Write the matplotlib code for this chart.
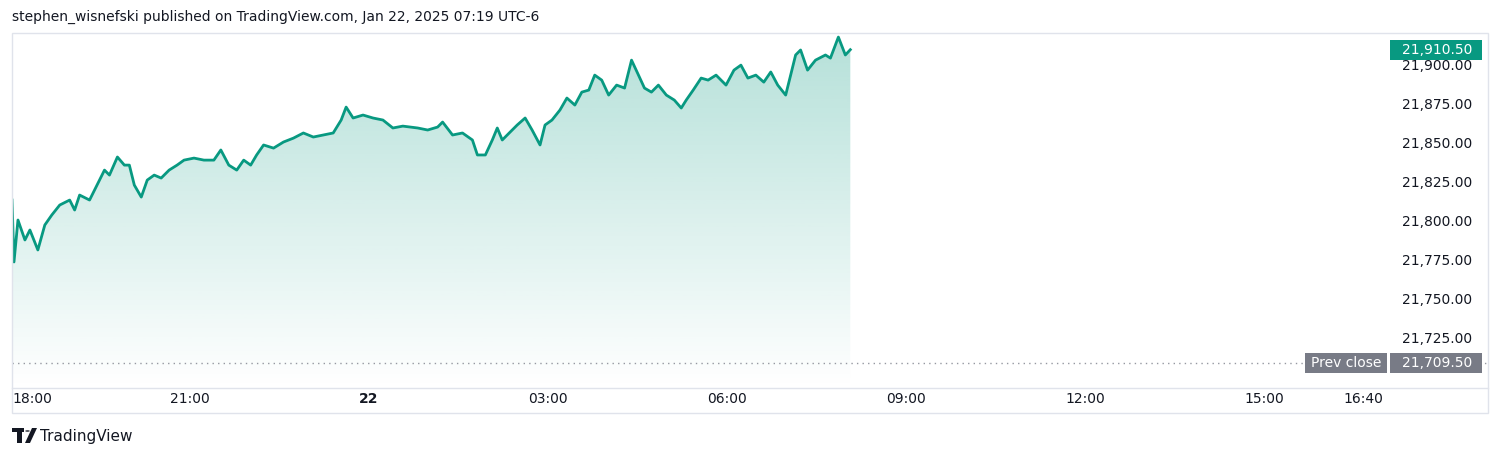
import matplotlib
matplotlib.use("Agg")
import matplotlib.pyplot as plt
import numpy as np
from matplotlib.patches import Rectangle, Polygon, Circle

# minutes since 18:00 (Jan 21)
minutes = [1,3,7,14,19,27,34,41,49,59,64,69,79,84,94,99,107,114,119,124,131,137,144,151,159,167,174,184,194,204,211,219,227,234,241,247,254,264,274,284,294,304,314,324,332,337,344,354,364,374,384,394,409,419,429,434,444,454,464,469,477,484,489,494,501,509,517,524,532,537,544,552,559,567,574,581,587,594,601,609,617,624,631,637,644,651,659,667,674,679,686,694,701,709,719,727,734,741,749,757,764,771,779,784,789,794,801,809,819,824,832,839,844]
prices = [21814.1,21774.4,21801.3,21788.5,21794.9,21782.1,21798.1,21804.5,21810.9,21814.1,21807.7,21817.3,21814.1,21820.5,21833.3,21830.1,21841.7,21836.5,21836.5,21823.7,21816.0,21826.9,21830.1,21828.2,21833.3,21836.5,21839.7,21841.0,21839.7,21839.7,21846.2,21836.5,21833.3,21839.7,21836.5,21843.0,21849.4,21847.4,21851.3,21853.8,21857.1,21854.5,21855.8,21857.1,21865.4,21873.7,21866.7,21868.6,21866.7,21865.4,21860.3,21861.5,21860.3,21859.0,21860.9,21864.1,21855.8,21857.1,21852.6,21843.0,21843.0,21852.6,21860.3,21852.6,21857.1,21862.2,21866.7,21859.0,21849.4,21862.2,21865.4,21871.8,21879.5,21875.0,21883.3,21884.6,21894.2,21891.0,21881.4,21887.8,21885.9,21903.8,21894.2,21885.9,21883.3,21887.8,21881.4,21878.2,21873.1,21878.2,21884.6,21892.3,21891.0,21894.2,21887.8,21897.4,21900.6,21892.3,21894.2,21889.7,21896.2,21887.8,21881.4,21894.2,21907.1,21910.3,21897.4,21903.8,21907.1,21905.1,21918.6,21907.1,21910.5]
prev_close = 21709.5
last_price = 21910.5
y_ticks = [21725, 21750, 21775, 21800, 21825, 21850, 21875, 21900]
x_tick_min = [0, 180, 360, 540, 720, 900, 1080, 1260, 1360]
x_tick_lab = ["18:00", "21:00", "22", "03:00", "06:00", "09:00", "12:00", "15:00", "16:40"]

GREEN = "#089981"
W, H = 1500, 457
fig = plt.figure(figsize=(15, 4.57), dpi=100)
fig.patch.set_facecolor("white")
ax = fig.add_axes([12/W, (H-388)/H, (1390-12)/W, (388-33)/H])
xmin, xmax = 1.0, 1386.7
ymin, ymax = 21693.6, 21921.2
ax.set_xlim(xmin, xmax); ax.set_ylim(ymin, ymax)
for s in ax.spines.values(): s.set_visible(False)
ax.set_xticks([]); ax.set_yticks([])

x = np.array(minutes, float); y = np.array(prices, float)
grad = np.linspace(0, 1, 256).reshape(-1, 1)
cmap = matplotlib.colors.LinearSegmentedColormap.from_list(
    "g", [(0, (8/255, 153/255, 129/255, 0.0)), (1, (8/255, 153/255, 129/255, 0.30))])
im = ax.imshow(grad, extent=[x[0], x[-1], ymin, y.max()], origin="lower",
               aspect="auto", cmap=cmap, zorder=1)
poly = Polygon(np.column_stack([np.r_[x, x[-1], x[0]], np.r_[y, ymin, ymin]]),
               closed=True, facecolor="none", edgecolor="none")
ax.add_patch(poly); im.set_clip_path(poly)
ax.plot(x, y, color=GREEN, lw=2, zorder=3)
ax.axhline(prev_close, color="#9598a1", lw=1, ls=(0, (1, 3)), zorder=2)

def to_fig(xv, yv):
    fx = (12 + (xv - xmin) / (xmax - xmin) * (1390 - 12)) / W
    fy = ((H - 388) + (yv - ymin) / (ymax - ymin) * (388 - 33)) / H
    return fx, fy

fy_pc = to_fig(0, prev_close)[1]
fig.add_artist(plt.Line2D([1390/W, 1488/W], [fy_pc, fy_pc], color="#9598a1", lw=1, ls=(0, (1, 3))))

fig.add_artist(Rectangle((12/W, (H-413)/H), (1488-12)/W, (413-33)/H, fill=False,
                         edgecolor="#e0e3eb", lw=1))
fig.add_artist(plt.Line2D([12/W, 1488/W], [(H-388)/H]*2, color="#e0e3eb", lw=1))

for t in y_ticks:
    fy = to_fig(0, t)[1]
    fig.text(1472/W, fy, f"{t:,.2f}", ha="right", va="center", fontsize=10, color="#131722")
fy_last = to_fig(0, last_price)[1]
fig.add_artist(Rectangle((1390/W, fy_last - 10/H), 92/W, 20/H, fc=GREEN, ec="none", zorder=4))
fig.text(1472/W, fy_last, f"{last_price:,.2f}", ha="right", va="center", fontsize=10, color="white", zorder=5)
fig.add_artist(Rectangle((1390/W, fy_pc - 10/H), 92/W, 20/H, fc="#787b86", ec="none", zorder=4))
fig.add_artist(Rectangle((1305/W, fy_pc - 10/H), 82/W, 20/H, fc="#787b86", ec="none", zorder=4))
fig.text(1472/W, fy_pc, f"{prev_close:,.2f}", ha="right", va="center", fontsize=10, color="white", zorder=5)
fig.text(1346/W, fy_pc, "Prev close", ha="center", va="center", fontsize=10, color="white", zorder=5)

for m, lab in zip(x_tick_min, x_tick_lab):
    fx = to_fig(m, 0)[0]
    if m == 0:
        fig.text(12/W, (H-399)/H, lab, ha="left", va="center", fontsize=10, color="#131722")
    else:
        fig.text(fx, (H-399)/H, lab, ha="center", va="center", fontsize=10, color="#131722",
                 fontweight="bold" if lab == "22" else "normal")

fig.text(12/W, (H-17)/H, "stephen_wisnefski published on TradingView.com, Jan 22, 2025 07:19 UTC-6",
         ha="left", va="center", fontsize=10, color="#131722")
# logo
fig.add_artist(Rectangle((12/W, (H-432)/H), 12/W, 4/H, fc="#131722", ec="none"))
fig.add_artist(Rectangle((17/W, (H-443)/H), 5/W, 14/H, fc="#131722", ec="none"))
fig.add_artist(Circle((27.5/W, (H-431)/H), 2.3/W, fc="#131722", ec="none"))
fig.add_artist(Polygon([(25/W, (H-443)/H), (30/W, (H-443)/H), (37/W, (H-428)/H), (32/W, (H-428)/H)],
                       closed=True, fc="#131722", ec="none"))
fig.text(40/W, (H-437)/H, "TradingView", ha="left", va="center", fontsize=11, color="#131722")

fig.savefig("out.png", dpi=100)
